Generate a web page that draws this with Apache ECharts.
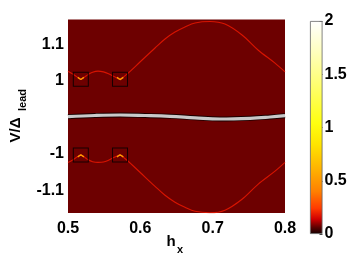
<!DOCTYPE html>
<html><head><meta charset="utf-8">
<script src="https://cdn.jsdelivr.net/npm/echarts@6/dist/echarts.min.js"></script>
<style>html,body{margin:0;padding:0;background:#fff}#c{width:350px;height:263px}</style>
</head><body><div id="c"></div>
<script>
// ---- data ----
const xTicks = [0.5, 0.6, 0.7, 0.8];
const yTickLabels = [-1.1, -1, 1, 1.1];
const colorbarTicks = [0, 0.5, 1, 1.5, 2];
const colorbarMax = 2;
// upper (positive) branch: [h_x, V/Δ_lead]
const upperCurve = [
  [0.500,1.026],[0.506,1.019],[0.512,1.011],[0.5177,1.003],[0.523,1.010],[0.528,1.017],
  [0.534,1.023],[0.5415,1.026],[0.549,1.024],[0.556,1.019],[0.564,1.011],[0.5719,1.003],
  [0.5816,1.018],[0.5995,1.051],[0.6203,1.0895],[0.6341,1.114],[0.6479,1.133],[0.6617,1.147],
  [0.6756,1.158],[0.6963,1.162],[0.717,1.155],[0.7406,1.125],[0.7627,1.084],[0.7862,1.048],[0.800,1.024]
];
const lowerCurve = [
  [0.500,-1.024],[0.506,-1.018],[0.512,-1.010],[0.5177,-1.003],[0.523,-1.010],[0.528,-1.017],
  [0.534,-1.022],[0.5415,-1.024],[0.549,-1.023],[0.556,-1.018],[0.564,-1.010],[0.5719,-1.003],
  [0.5816,-1.018],[0.5995,-1.051],[0.6203,-1.0895],[0.6341,-1.114],[0.6479,-1.133],[0.6617,-1.147],
  [0.6756,-1.158],[0.6963,-1.162],[0.717,-1.155],[0.7406,-1.125],[0.7627,-1.084],[0.7862,-1.048],[0.800,-1.024]
];
const middleCurve = [
  [0.500,0.012],[0.5373,0.045],[0.5719,0.059],[0.6065,0.045],[0.641,0.023],[0.6756,-0.018],
  [0.7101,-0.051],[0.7516,-0.032],[0.7793,0.004],[0.800,0.040]
];
const cuspSegments = [
  [[0.5135,1.009],[0.5177,1.003],[0.522,1.009]],
  [[0.5677,1.009],[0.5719,1.003],[0.5765,1.009]],
  [[0.5135,-1.009],[0.5177,-1.003],[0.522,-1.009]],
  [[0.5677,-1.009],[0.5719,-1.003],[0.5765,-1.009]]
];
const boxCenters = [[0.5177,1.004],[0.5719,1.004],[0.5177,-1.004],[0.5719,-1.004]];
const cuspH = [0.5177, 0.5719];

// ---- broken V axis: |V|<=1 compressed ----
function toAxis(v){ const a = Math.abs(v); return a <= 1 ? 0.1*v : Math.sign(v)*(a-0.9); }
function fromAxis(u){ const a = Math.abs(u); return a <= 0.1 + 1e-9 ? u/0.1 : Math.sign(u)*(a+0.9); }
const tr = arr => arr.map(p => [p[0], toAxis(p[1])]);
// split a curve at its cusp points so each smooth piece keeps sharp corners
function splitAtCusps(arr){
  const pieces = []; let cur = [];
  arr.forEach(p => { cur.push(p); if (cuspH.indexOf(p[0]) >= 0) { pieces.push(cur); cur = [p]; } });
  if (cur.length > 1) pieces.push(cur);
  return pieces;
}

const font = 'Liberation Sans, Arial, sans-serif';
const chart = echarts.init(document.getElementById('c'), null, {renderer:'canvas'});
const redLine = {color:'#d81400', width:1.1};
const series = [
  {type:'line', data: tr(middleCurve), smooth:0.4, showSymbol:false, lineStyle:{color:'#1a0000', width:5}, z:2, silent:true},
  {type:'line', data: tr(middleCurve), smooth:0.4, showSymbol:false, lineStyle:{color:'#c9c9c9', width:3.2}, z:3, silent:true}
];
[upperCurve, lowerCurve].forEach(curve => splitAtCusps(curve).forEach(piece =>
  series.push({type:'line', data: tr(piece), smooth:0.35, showSymbol:false, lineStyle:redLine, z:3, silent:true})));
cuspSegments.forEach(seg => series.push({type:'line', data: tr(seg), showSymbol:false,
  lineStyle:{color:'#ff9a00', width:1.4}, z:4, silent:true}));
series.push({type:'scatter', data: tr(boxCenters), symbol:'rect', symbolSize:[15,14],
  itemStyle:{color:'rgba(0,0,0,0)', borderColor:'#000', borderWidth:1}, z:5, silent:true});
series.push({type:'bar', xAxisIndex:1, yAxisIndex:1, data:[colorbarMax], barWidth:'100%', silent:true,
  itemStyle:{borderColor:'#666', borderWidth:0.8,
    color: new echarts.graphic.LinearGradient(0,1,0,0,[
      {offset:0,color:'#120000'},{offset:0.03,color:'#5a0000'},{offset:0.07,color:'#d00000'},
      {offset:0.12,color:'#ff3a00'},{offset:0.2,color:'#ff8000'},{offset:0.3,color:'#ffb000'},
      {offset:0.42,color:'#ffe400'},{offset:0.52,color:'#ffff10'},{offset:0.7,color:'#ffff70'},
      {offset:0.86,color:'#ffffc0'},{offset:1,color:'#ffffff'}])}});

chart.setOption({
  animation:false,
  backgroundColor:'#fff',
  grid:[
    {left:68, top:19.5, width:217, height:193.5, show:true, backgroundColor:'#6d0000', borderWidth:0},
    {left:310, top:21, width:12.5, height:213}
  ],
  xAxis:[
    {type:'value', gridIndex:0, min:xTicks[0], max:xTicks[xTicks.length-1], interval:0.1,
     axisLine:{show:false}, axisTick:{show:false}, splitLine:{show:false},
     axisLabel:{color:'#000', fontFamily:font, fontWeight:'bold', fontSize:16, margin:8,
       formatter: v => v.toFixed(1)}},
    {type:'category', gridIndex:1, data:[''], show:false}
  ],
  yAxis:[
    {type:'value', gridIndex:0, min:-0.2626, max:0.2675,
     axisLine:{show:false}, axisTick:{show:false}, splitLine:{show:false},
     axisLabel:{customValues: yTickLabels.map(toAxis), color:'#000', fontFamily:font, fontWeight:'bold', fontSize:16, margin:4,
       formatter: u => String(Math.round(fromAxis(u)*10)/10)}},
    {type:'value', gridIndex:1, position:'right', min:colorbarTicks[0], max:colorbarTicks[colorbarTicks.length-1], interval:0.5,
     axisLine:{show:false}, splitLine:{show:false},
     axisTick:{show:true, inside:true, length:3, lineStyle:{color:'#444'}},
     axisLabel:{color:'#000', fontFamily:font, fontWeight:'bold', fontSize:16, margin:2,
       formatter: v => String(v)}}
  ],
  graphic:[
    {type:'text', x:16, y:130, rotation:Math.PI/2, style:{text:'V/Δ', fill:'#000', font:'bold 15px '+font, align:'center', verticalAlign:'middle'}},
    {type:'text', x:22.5, y:100, rotation:Math.PI/2, style:{text:'lead', fill:'#000', font:'bold 11px '+font, align:'center', verticalAlign:'middle'}},
    {type:'text', x:171, y:242, style:{text:'h', fill:'#000', font:'bold 15px '+font, align:'center', verticalAlign:'middle'}},
    {type:'text', x:180, y:250, style:{text:'x', fill:'#000', font:'bold 11px '+font, align:'center', verticalAlign:'middle'}}
  ],
  series: series
});
</script></body></html>
